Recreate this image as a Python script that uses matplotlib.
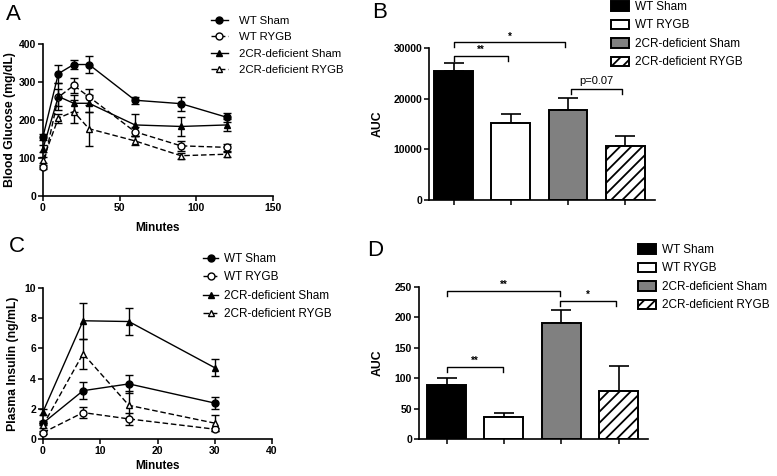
import numpy as np
import matplotlib
matplotlib.use("Agg")
import matplotlib.pyplot as plt
from matplotlib.patches import Patch
from matplotlib.lines import Line2D

plt.rcParams['font.family'] = ['Liberation Sans', 'DejaVu Sans']

groups = ["WT Sham", "WT RYGB", "2CR-deficient Sham", "2CR-deficient RYGB"]

# Panel A - glucose tolerance
glu_t = [0, 10, 20, 30, 60, 90, 120]
glu_mean = {
    "WT Sham": [156, 322, 346, 346, 252, 243, 207],
    "WT RYGB": [76, 260, 291, 261, 169, 132, 128],
    "2CR-deficient Sham": [125, 262, 244, 244, 187, 183, 187],
    "2CR-deficient RYGB": [95, 205, 222, 177, 145, 106, 110],
}
glu_err = {
    "WT Sham": [8, 24, 12, 22, 9, 18, 11],
    "WT RYGB": [6, 22, 20, 21, 12, 13, 10],
    "2CR-deficient Sham": [10, 36, 22, 22, 28, 26, 15],
    "2CR-deficient RYGB": [8, 12, 30, 45, 12, 8, 7],
}

# Panel B - glucose AUC
glu_auc = [25500, 15200, 17800, 10600]
glu_auc_err = [1500, 1700, 2400, 2000]

# Panel C - plasma insulin
ins_t = [0, 7, 15, 30]
ins_mean = {
    "WT Sham": [1.05, 3.2, 3.65, 2.38],
    "WT RYGB": [0.42, 1.75, 1.33, 0.65],
    "2CR-deficient Sham": [1.8, 7.83, 7.78, 4.72],
    "2CR-deficient RYGB": [0.9, 5.65, 2.23, 1.05],
}
ins_err = {
    "WT Sham": [0.15, 0.55, 0.58, 0.42],
    "WT RYGB": [0.1, 0.35, 0.38, 0.1],
    "2CR-deficient Sham": [0.2, 1.2, 0.88, 0.58],
    "2CR-deficient RYGB": [0.15, 1.0, 0.92, 0.52],
}

# Panel D - insulin AUC
ins_auc = [88, 35.5, 191.5, 79]
ins_auc_err = [13, 7.5, 20, 41]

# significance brackets: (left, right, height, label)
glu_brackets = [(0, 0.95, 28500, "**"), (0, 1.95, 31100, "*"), (2.05, 2.95, 21900, "p=0.07")]
ins_brackets = [(0, 1.98, 243, "**"), (1.98, 2.95, 227, "*"), (0, 0.98, 119, "**")]

line_styles = {
    "WT Sham": dict(marker='o', mfc='black', ls='-'),
    "WT RYGB": dict(marker='o', mfc='white', ls=(0, (4, 2))),
    "2CR-deficient Sham": dict(marker='^', mfc='black', ls='-'),
    "2CR-deficient RYGB": dict(marker='^', mfc='white', ls=(0, (4, 2))),
}
bar_styles = [
    dict(color='black', hatch=None),
    dict(color='white', hatch=None),
    dict(color='#808080', hatch=None),
    dict(color='white', hatch='///'),
]

plt.rcParams['hatch.linewidth'] = 1.3

fig = plt.figure(figsize=(7.77, 4.76), dpi=100)
W, H = 777, 476


def add_ax(x0, x1, y0, y1):
    return fig.add_axes([x0 / W, 1 - y0 / H, (x1 - x0) / W, (y0 - y1) / H])


def style_ax(ax):
    for s in ['top', 'right']:
        ax.spines[s].set_visible(False)
    for s in ['left', 'bottom']:
        ax.spines[s].set_linewidth(1.2)
    ax.tick_params(direction='out', length=3.5, width=1.1, labelsize=7.5, pad=1.5)
    for lbl in ax.get_xticklabels() + ax.get_yticklabels():
        lbl.set_fontweight('bold')


def line_panel(ax, t, means, errs):
    for g in groups:
        st = line_styles[g]
        ax.errorbar(t, means[g], yerr=errs[g], color='black', lw=1.0, ls=st['ls'],
                    marker=st['marker'], mfc=st['mfc'], mec='black', ms=5, mew=1.0,
                    capsize=3, elinewidth=1.0, capthick=1.0, clip_on=False, zorder=3)


def bar_panel(ax, vals, errs, brackets, tick_drop, fs_star):
    x = np.arange(len(vals))
    for i in range(len(vals)):
        st = bar_styles[i]
        ax.bar(x[i], vals[i], width=0.68, color=st['color'], edgecolor='black',
               linewidth=1.4, hatch=st['hatch'], zorder=2)
        ax.errorbar(x[i], vals[i], yerr=[[0], [errs[i]]], color='black', lw=1.2,
                    capsize=7, capthick=1.2, zorder=1)
    ax.set_xticks(x)
    ax.set_xticklabels([])
    for a, b, y, txt in brackets:
        ax.plot([a, a, b, b], [y - tick_drop, y, y, y - tick_drop], color='black',
                lw=1.0, clip_on=False)
        if txt.startswith('p'):
            ax.text((a + b) / 2, y + tick_drop * 0.6, txt, ha='center', va='bottom',
                    fontsize=8)
        else:
            ax.text((a + b) / 2, y + tick_drop * 0.2, txt, ha='center', va='bottom',
                    fontsize=fs_star, fontweight='bold')


# ---- A
axA = add_ax(43, 273, 196, 44)
line_panel(axA, glu_t, glu_mean, glu_err)
axA.set_xlim(0, 150)
axA.set_ylim(0, 400)
axA.set_xticks([0, 50, 100, 150])
axA.set_yticks([0, 100, 200, 300, 400])
axA.set_xlabel("Minutes", fontsize=8.5, fontweight='bold')
axA.set_ylabel("Blood Glucose (mg/dL)", fontsize=8.8, fontweight='bold')
axA.xaxis.set_label_coords(0.5, -0.17)
axA.yaxis.set_label_coords(-0.117, 0.5)
style_ax(axA)

# ---- B
axB = add_ax(429, 655, 200, 48)
bar_panel(axB, glu_auc, glu_auc_err, glu_brackets, 1000, 7)
axB.set_xlim(-0.43, 3.52)
axB.set_ylim(0, 30000)
axB.set_yticks([0, 10000, 20000, 30000])
axB.set_ylabel("AUC", fontsize=8.8, fontweight='bold')
axB.yaxis.set_label_coords(-0.2, 0.5)
style_ax(axB)

# ---- C
axC = add_ax(43, 272, 439, 288)
line_panel(axC, ins_t, ins_mean, ins_err)
axC.set_xlim(0, 40)
axC.set_ylim(0, 10)
axC.set_xticks([0, 10, 20, 30, 40])
axC.set_yticks([0, 2, 4, 6, 8, 10])
axC.set_xlabel("Minutes", fontsize=8.5, fontweight='bold')
axC.set_ylabel("Plasma Insulin (ng/mL)", fontsize=8.8, fontweight='bold')
axC.xaxis.set_label_coords(0.5, -0.14)
axC.yaxis.set_label_coords(-0.105, 0.5)
style_ax(axC)

# ---- D
axD = add_ax(419, 648, 439, 287)
bar_panel(axD, ins_auc, ins_auc_err, ins_brackets, 8, 7)
axD.set_xlim(-0.48, 3.51)
axD.set_ylim(0, 250)
axD.set_yticks([0, 50, 100, 150, 200, 250])
axD.set_ylabel("AUC", fontsize=8.8, fontweight='bold')
axD.yaxis.set_label_coords(-0.153, 0.5)
style_ax(axD)

# legends
line_handles = [Line2D([], [], color='black', lw=1.0, ls=line_styles[g]['ls'],
                       marker=line_styles[g]['marker'], mfc=line_styles[g]['mfc'],
                       mec='black', ms=5) for g in groups]
bar_handles = [Patch(facecolor=s['color'], edgecolor='black', hatch=s['hatch'], lw=1.4)
               for s in bar_styles]

leg_kw = dict(frameon=False, borderpad=0, borderaxespad=0,
              labelspacing=0.55, loc='upper left',
              bbox_transform=fig.transFigure)
fig.legend(line_handles, groups, bbox_to_anchor=(211 / W, 1 - 16 / H),
           handlelength=1.45, handletextpad=1.0, fontsize=8.2, **leg_kw)
fig.legend(bar_handles, groups, bbox_to_anchor=(611 / W, 1 - 1 / H),
           handlelength=1.5, handleheight=0.9, handletextpad=0.5, fontsize=8.5, **leg_kw)
fig.legend(line_handles, groups, bbox_to_anchor=(203 / W, 1 - 253 / H),
           handlelength=1.3, handletextpad=0.5, fontsize=8.5, **leg_kw)
fig.legend(bar_handles, groups, bbox_to_anchor=(638 / W, 1 - 244 / H),
           handlelength=1.5, handleheight=0.9, handletextpad=0.5, fontsize=8.5, **leg_kw)

# panel letters
for lab, (px, py) in zip("ABCD", [(6, 14), (372, 13), (9, 246), (367, 250)]):
    fig.text(px / W, 1 - py / H, lab, fontsize=16, ha='left', va='center')

fig.savefig("out.png", dpi=100)
